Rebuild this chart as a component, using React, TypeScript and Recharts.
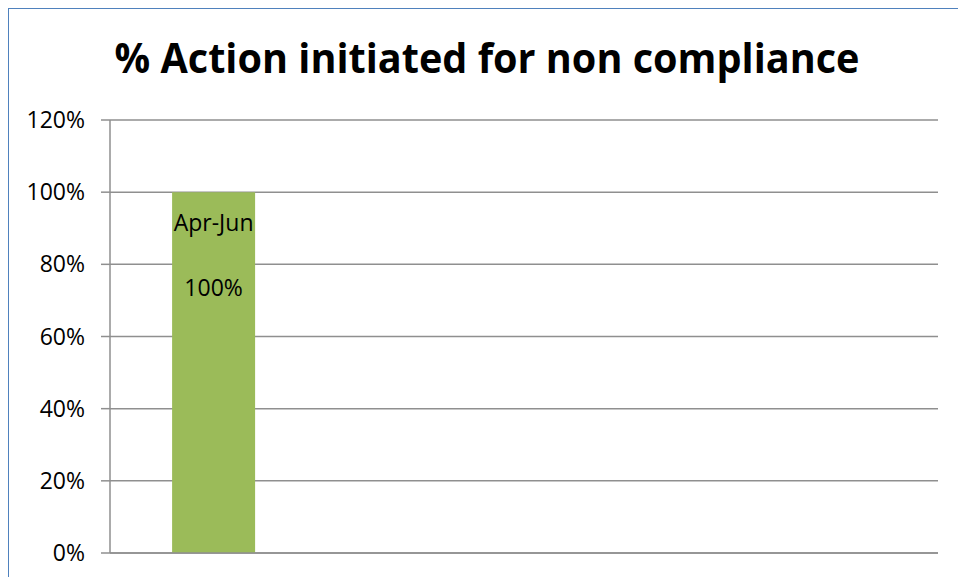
import React from "react";
import {
  BarChart,
  Bar,
  CartesianGrid,
  XAxis,
  YAxis,
  LabelList,
} from "recharts";

const TITLE = "% Action initiated for non compliance";
const QUARTERS = ["Apr-Jun", "Jul-Sep", "Oct-Dec", "Jan-Mar"];
const ACTION_PCT: (number | null)[] = [1, null, null, null];
const Y_TICKS = [0, 0.2, 0.4, 0.6, 0.8, 1, 1.2];

const data = QUARTERS.map((q, i) => ({ quarter: q, value: ACTION_PCT[i] }));

const FONT = "'Open Sans', 'Liberation Sans', sans-serif";
const GRID = "#8f8f8f";

const pct = (v: number) => `${Math.round(v * 100)}%`;

function BarLabel(props: any) {
  const { x, y, width, value, index } = props;
  if (value == null) return null;
  const cx = x + width / 2;
  return (
    <g>
      <text
        x={cx}
        y={y + 30}
        textAnchor="middle"
        dominantBaseline="central"
        fontFamily={FONT}
        fontSize={23}
        fill="#000"
      >
        {QUARTERS[index]}
      </text>
      <text
        x={cx}
        y={y + 95}
        textAnchor="middle"
        dominantBaseline="central"
        fontFamily={FONT}
        fontSize={23}
        fill="#000"
      >
        {pct(value)}
      </text>
    </g>
  );
}

export default function App() {
  return (
    <div
      style={{
        position: "absolute",
        left: 0,
        top: 0,
        width: 958,
        height: 577,
        overflow: "hidden",
        background: "#fff",
      }}
    >
      <div
        style={{
          position: "absolute",
          left: 8,
          top: 8,
          width: 1000,
          height: 600,
          borderLeft: "1.5px solid #4f81bd",
          borderTop: "1.5px solid #4f81bd",
        }}
      />
      <svg
        width={958}
        height={100}
        style={{ position: "absolute", left: 0, top: 0 }}
      >
        <text
          x={487}
          y={73}
          textAnchor="middle"
          fontFamily={FONT}
          fontWeight="bold"
          fontSize={41}
          textLength={745}
          lengthAdjust="spacingAndGlyphs"
          fill="#000"
        >
          {TITLE}
        </text>
      </svg>
      <div style={{ position: "absolute", left: 0, top: 0 }}>
        <BarChart
          width={958}
          height={577}
          data={data}
          margin={{ top: 120, right: 20, left: 50, bottom: 23 }}
          barCategoryGap="30%"
        >
          <CartesianGrid
            horizontal
            vertical={false}
            stroke={GRID}
            strokeWidth={1.5}
          />
          <XAxis
            dataKey="quarter"
            tick={false}
            tickLine={false}
            height={1}
            axisLine={{ stroke: GRID, strokeWidth: 1.5 }}
          />
          <YAxis
            width={60}
            domain={[0, 1.2]}
            ticks={Y_TICKS}
            interval={0}
            tickFormatter={pct}
            tickSize={9}
            tickMargin={16}
            tickLine={{ stroke: GRID, strokeWidth: 1.5 }}
            axisLine={{ stroke: GRID, strokeWidth: 1.5 }}
            tick={{ fill: "#000", fontSize: 23, fontFamily: FONT }}
          />
          <Bar dataKey="value" fill="#9bbb59" isAnimationActive={false}>
            <LabelList dataKey="value" content={<BarLabel />} />
          </Bar>
        </BarChart>
      </div>
    </div>
  );
}
